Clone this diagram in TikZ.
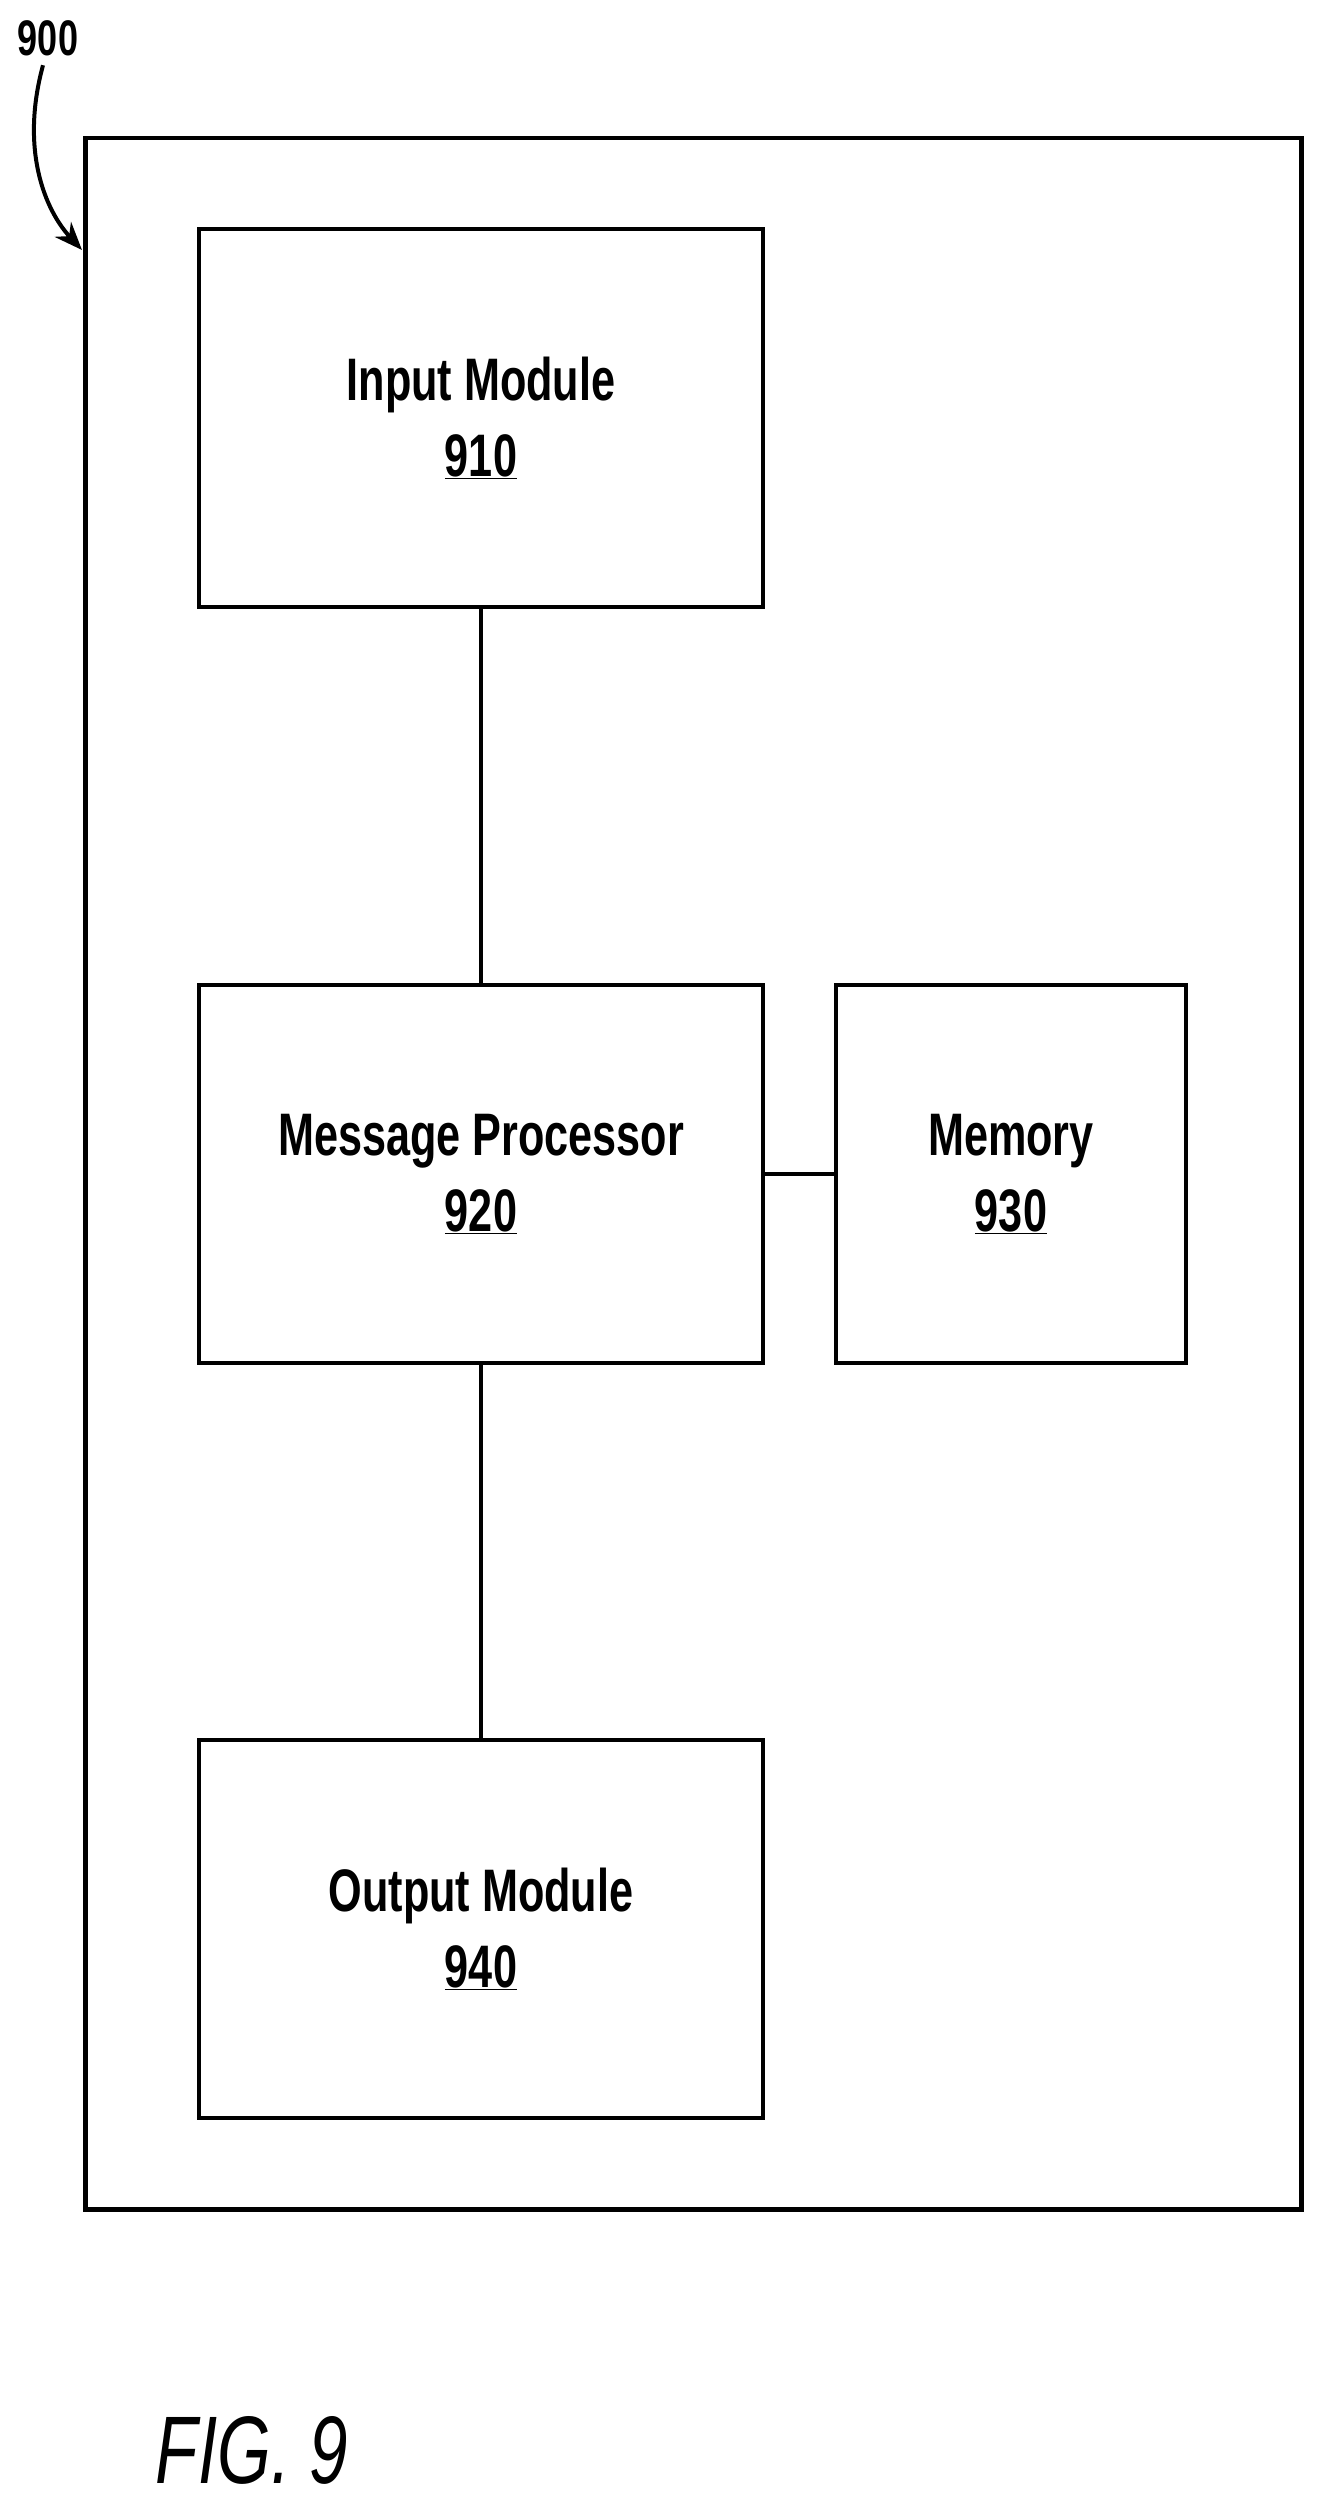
\documentclass[tikz,border=0pt]{standalone}
\usepackage{fontspec}
\setmainfont{Liberation Sans}[FakeStretch=0.72]
\usetikzlibrary{arrows.meta}
\begin{document}
\begin{tikzpicture}[x=1pt,y=-1pt,
  box/.style={draw,line width=4pt,inner sep=0pt,align=center,font=\fontsize{60}{76}\selectfont\bfseries},
  ln/.style={line width=4pt}]
\useasboundingbox (0,0) rectangle (1323,2515);
\node[draw,line width=4.5pt,minimum width=1216pt,minimum height=2071pt,anchor=north west] (outer) at (83,136) {};
\node[box,minimum width=564pt,minimum height=378pt,anchor=north west] (in) at (197,227) {Input Module\\\underline{910}};
\node[box,minimum width=564pt,minimum height=378pt,anchor=north west] (mp) at (197,983) {Message Processor\\\underline{920}};
\node[box,minimum width=350pt,minimum height=378pt,anchor=north west] (mem) at (834,983) {Memory\\\underline{930}};
\node[box,minimum width=564pt,minimum height=378pt,anchor=north west] (out) at (197,1738) {Output Module\\\underline{940}};
\draw[ln] (in) -- (mp);
\draw[ln] (mp) -- (mem);
\draw[ln] (mp) -- (out);
\node[font=\fontsize{50}{60}\selectfont\bfseries] (lbl) at (48,38) {900};
\coordinate (tip) at (82,250);
\draw[line width=4pt,-{Stealth[length=28pt,width=22pt]}] (lbl.south) ++(-5,6) .. controls (20,150) and (45,210) .. (tip);
\node[font=\fontsize{96}{110}\selectfont\itshape] (fig) at (252,2450) {FIG. 9};
\end{tikzpicture}
\end{document}
